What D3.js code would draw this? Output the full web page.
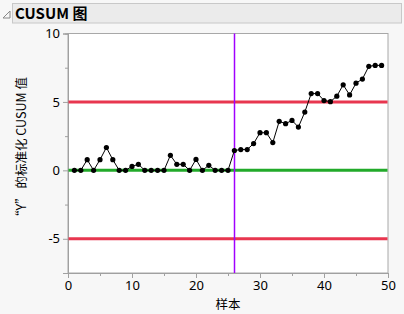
<!DOCTYPE html>
<html><head><meta charset="utf-8">
<script src="https://cdn.jsdelivr.net/npm/d3@7"></script>
<style>
html,body{margin:0;padding:0;background:#f7f7f7;}
svg{display:block;font-family:"Segoe UI","Noto Sans CJK SC","Noto Sans",sans-serif;}
</style></head>
<body><div id="chart"></div>
<script>
const samples = d3.range(1, 50);
const cusum = [0,0,0.78,0,0.78,1.67,0.78,0,0,0.29,0.44,0,0,0,0,1.1,0.44,0.44,0,0.8,0,0.37,0,0,0,1.45,1.52,1.52,1.96,2.75,2.75,2.03,3.58,3.41,3.65,3.16,4.26,5.61,5.61,5.1,5.02,5.42,6.25,5.51,6.37,6.67,7.6,7.67,7.67];
const limits = [5, -5];
const centerValue = [0];
const shiftSample = [26];
const xTicks = [0,10,20,30,40,50];
const xMinor = [5,15,25,35,45];
const yTicks = [-5,0,5,10];
const yMinor = [-7.5,-2.5,2.5,7.5];
const title = "CUSUM 图";
const xLabel = "样本";
const yLabel = "“Y” 的标准化 CUSUM 值";

const W = 404, H = 314;
const svg = d3.select("#chart").append("svg").attr("width", W).attr("height", H);

// title bar
svg.append("rect").attr("x", 12.5).attr("y", 3.5).attr("width", 389).attr("height", 19.5)
  .attr("fill", "#ebebeb").attr("stroke", "#c8c8c8");
svg.append("path").attr("d", "M3,18 L10,11 L10,18 Z").attr("fill", "none").attr("stroke", "#888").attr("stroke-width", 1);
svg.append("text").attr("x", 15).attr("y", 19).attr("font-size", 15).attr("font-weight", "bold")
  .attr("fill", "#000").text(title);

const L = 68, R = 388, T = 33.5, B = 273;
const x = d3.scaleLinear().domain([0, 50]).range([L, R]);
const y = d3.scaleLinear().domain([-7.5, 10]).range([B, T]);

svg.append("rect").attr("x", L).attr("y", T).attr("width", R - L).attr("height", B - T)
  .attr("fill", "#fff").attr("stroke", "#a8a8a8").attr("stroke-width", 1);

// axes
const axisColor = "#a0a0a0";
const fmt = d => String(d);
const gx = svg.append("g").attr("transform", `translate(0,${B})`)
  .call(d3.axisBottom(x).tickValues(xTicks).tickSize(5).tickPadding(3).tickFormat(fmt));
const gxm = svg.append("g").attr("transform", `translate(0,${B})`)
  .call(d3.axisBottom(x).tickValues(xMinor).tickSize(3).tickFormat(""));
const gy = svg.append("g").attr("transform", `translate(${L},0)`)
  .call(d3.axisLeft(y).tickValues(yTicks).tickSize(5).tickPadding(3).tickFormat(fmt));
const gym = svg.append("g").attr("transform", `translate(${L},0)`)
  .call(d3.axisLeft(y).tickValues(yMinor).tickSize(3).tickFormat(""));
[gx, gxm, gy, gym].forEach(g => {
  g.select(".domain").attr("stroke", axisColor);
  g.selectAll(".tick line").attr("stroke", axisColor);
  g.selectAll("text").attr("fill", "#000").attr("font-size", 13).attr("font-family", "\"Segoe UI\",\"Noto Sans\",sans-serif");
});

// reference lines
svg.selectAll(".lim").data(limits).enter().append("line")
  .attr("x1", L + 0.5).attr("x2", R - 0.5).attr("y1", d => y(d)).attr("y2", d => y(d))
  .attr("stroke", "#e8364f").attr("stroke-width", 3);
svg.selectAll(".ctr").data(centerValue).enter().append("line")
  .attr("x1", L + 0.5).attr("x2", R - 0.5).attr("y1", d => y(d)).attr("y2", d => y(d))
  .attr("stroke", "#22aa2a").attr("stroke-width", 3);
svg.selectAll(".shift").data(shiftSample).enter().append("line")
  .attr("x1", d => Math.round(x(d)) + 0.5).attr("x2", d => Math.round(x(d)) + 0.5)
  .attr("y1", T).attr("y2", B)
  .attr("stroke", "#a000ff").attr("stroke-width", 1.5);

// series
const pts = samples.map((s, i) => [s, cusum[i]]);
svg.append("path").datum(pts)
  .attr("d", d3.line().x(d => x(d[0])).y(d => y(d[1])))
  .attr("fill", "none").attr("stroke", "#000").attr("stroke-width", 1);
svg.selectAll(".pt").data(pts).enter().append("circle")
  .attr("cx", d => x(d[0])).attr("cy", d => y(d[1])).attr("r", 2.6).attr("fill", "#000");

// labels
svg.append("text").attr("x", (L + R) / 2).attr("y", 309).attr("text-anchor", "middle")
  .attr("font-size", 12.5).attr("fill", "#000").text(xLabel);
svg.append("text").attr("transform", `translate(26,150) rotate(-90)`)
  .attr("text-anchor", "middle").attr("font-size", 12.5).attr("fill", "#000").text(yLabel);
</script></body></html>
